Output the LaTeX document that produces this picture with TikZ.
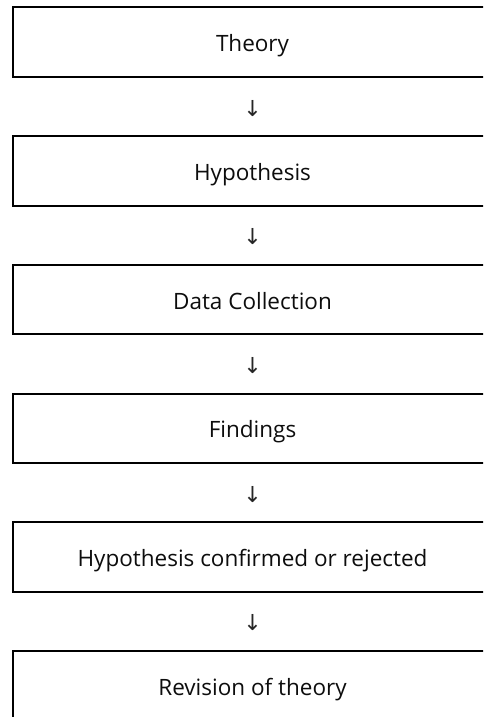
\documentclass[tikz,border=0pt]{standalone}
\usepackage{fontspec}
\setmainfont{Open Sans}
\newfontfamily\arrowfont{DejaVu Sans}
\usetikzlibrary{calc}
\begin{document}
\begin{tikzpicture}[x=1pt,y=-1pt,
  stepbox/.style={draw=black, line width=2pt, minimum width=480pt, minimum height=69.5pt,
    inner sep=0pt, text height=19pt, text depth=0pt,
    font=\fontsize{22.5}{26}\selectfont, text=black!95},
  downarrow/.style={inner sep=0pt, font=\arrowfont\fontsize{22}{26}\selectfont, text=black!85}]
\clip (0,0) rectangle (483,717);
\useasboundingbox (0,0) rectangle (483,717);
\fill[white] (0,0) rectangle (483,717);
\node[stepbox] (b1) at (252.5,42.25) {Theory};
\node[stepbox] (b2) at (252.5,170.95) {Hypothesis};
\node[stepbox] (b3) at (252.5,299.65) {Data Collection};
\node[stepbox] (b4) at (252.5,428.35) {Findings};
\node[stepbox] (b5) at (252.5,557.05) {Hypothesis confirmed or rejected};
\node[stepbox] (b6) at (252.5,685.75) {Revision of theory};
\node[downarrow] (a1) at ($(b1.south)!0.5!(b2.north)+(0,1.5)$) {↓};
\node[downarrow] (a2) at ($(b2.south)!0.5!(b3.north)+(0,1.5)$) {↓};
\node[downarrow] (a3) at ($(b3.south)!0.5!(b4.north)+(0,1.5)$) {↓};
\node[downarrow] (a4) at ($(b4.south)!0.5!(b5.north)+(0,1.5)$) {↓};
\node[downarrow] (a5) at ($(b5.south)!0.5!(b6.north)+(0,1.5)$) {↓};
\end{tikzpicture}
\end{document}
